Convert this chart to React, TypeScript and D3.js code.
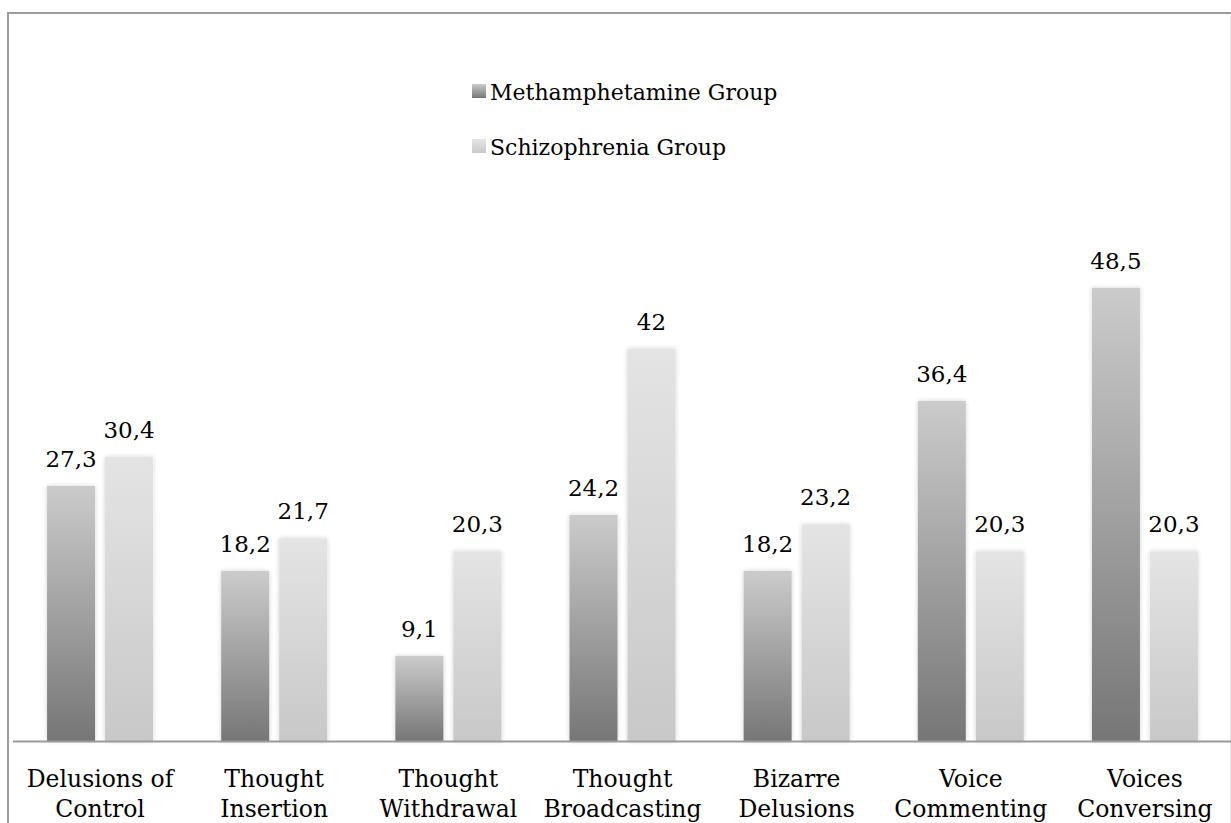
import React from "react";
import * as d3 from "d3";

const categories: string[][] = [
  ["Delusions of", "Control"],
  ["Thought", "Insertion"],
  ["Thought", "Withdrawal"],
  ["Thought", "Broadcasting"],
  ["Bizarre", "Delusions"],
  ["Voice", "Commenting"],
  ["Voices", "Conversing"],
];
const groups = ["Methamphetamine Group", "Schizophrenia Group"];
const methValues = [27.3, 18.2, 9.1, 24.2, 18.2, 36.4, 48.5];
const schizoValues = [30.4, 21.7, 20.3, 42, 23.2, 20.3, 20.3];

const W = 1231;
const H = 823;
const FONT = "'DejaVu Serif', serif";
const fmt = (v: number) => String(v).replace(".", ",");

export default function App() {
  const keys = categories.map((c) => c.join(" "));
  const x0 = d3.scaleBand<string>().domain(keys).range([13, 1232]);
  const x1 = d3
    .scaleBand<string>()
    .domain(groups)
    .range([0, 106])
    .paddingInner(10 / 58);
  const y = d3.scaleLinear().domain([0, 60]).range([741, 741 - 560.4]);
  const series = [methValues, schizoValues];
  const grads = ["gMeth", "gSchizo"];

  return (
    <svg
      width={W}
      height={H}
      style={{ position: "absolute", left: 0, top: 0, background: "#fff" }}
      fontFamily={FONT}
    >
      <defs>
        <linearGradient id="gMeth" x1="0" y1="0" x2="0" y2="1">
          <stop offset="0" stopColor="#cbcbcb" />
          <stop offset="1" stopColor="#767676" />
        </linearGradient>
        <linearGradient id="gSchizo" x1="0" y1="0" x2="0" y2="1">
          <stop offset="0" stopColor="#e4e4e4" />
          <stop offset="1" stopColor="#c8c8c8" />
        </linearGradient>
        <filter id="shadow" x="-30%" y="-10%" width="160%" height="120%">
          <feGaussianBlur in="SourceAlpha" stdDeviation="2.5" />
          <feComponentTransfer>
            <feFuncA type="linear" slope="0.18" />
          </feComponentTransfer>
          <feMerge>
            <feMergeNode />
            <feMergeNode in="SourceGraphic" />
          </feMerge>
        </filter>
      </defs>
      <rect x={0} y={0} width={W} height={H} fill="#fff" />
      {/* chart border */}
      <line x1={8} y1={13} x2={1231} y2={13} stroke="#9c9c9c" strokeWidth={2} />
      <line x1={8} y1={12} x2={8} y2={H} stroke="#9c9c9c" strokeWidth={2} />
      <line x1={1230.5} y1={14} x2={1230.5} y2={H} stroke="#e6e6e6" strokeWidth={1} />

      {/* bars */}
      {keys.map((k, i) => {
        const cx = (x0(k) as number) + x0.bandwidth() / 2 - 53;
        return (
          <g key={k} transform={`translate(${cx},0)`}>
            {groups.map((g, j) => {
              const v = series[j][i];
              const bx = x1(g) as number;
              const bw = x1.bandwidth();
              return (
                <g key={g}>
                  <rect
                    x={bx}
                    y={y(v)}
                    width={bw}
                    height={y(0) - y(v)}
                    fill={`url(#${grads[j]})`}
                    filter="url(#shadow)"
                  />
                  <text
                    x={bx + bw / 2}
                    y={y(v) - 19}
                    textAnchor="middle"
                    fontSize={23}
                    fill="#000"
                  >
                    {fmt(v)}
                  </text>
                </g>
              );
            })}
          </g>
        );
      })}

      {/* axis */}
      <line x1={13} y1={741.5} x2={1231} y2={741.5} stroke="#9a9a9a" strokeWidth={2} />
      {keys.map((k, i) => {
        const cx = (x0(k) as number) + x0.bandwidth() / 2;
        return (
          <text key={k} textAnchor="middle" fontSize={23.5} fill="#000">
            <tspan x={cx} y={787}>
              {categories[i][0]}
            </tspan>
            <tspan x={cx} y={817}>
              {categories[i][1]}
            </tspan>
          </text>
        );
      })}

      {/* legend */}
      {groups.map((g, j) => (
        <g key={g} transform={`translate(472,${100 + j * 55})`}>
          <rect y={-16} width={14} height={14} fill={`url(#${grads[j]})`} />
          <text x={18} y={0} fontSize={22} fill="#000">
            {g}
          </text>
        </g>
      ))}
    </svg>
  );
}
